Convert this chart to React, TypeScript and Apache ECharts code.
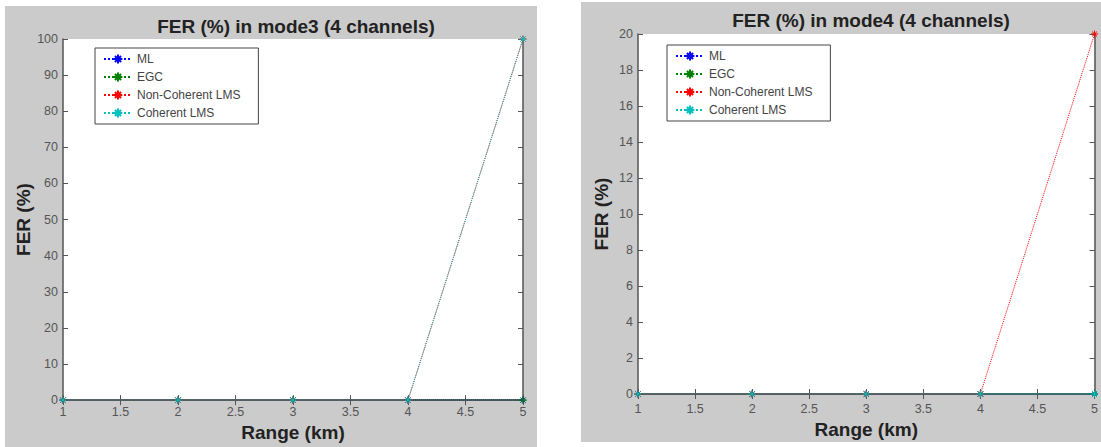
import React, { useEffect, useRef } from "react";
import * as echarts from "echarts";

const ranges = [1, 2, 3, 4, 5];
const seriesNames = ["ML", "EGC", "Non-Coherent LMS", "Coherent LMS"];
const seriesColors = ["#0000ff", "#008000", "#ff0000", "#00bfbf"];

// mode3 FER (%)
const mode3ML = [0, 0, 0, 0, 0];
const mode3EGC = [0, 0, 0, 0, 0];
const mode3NonCoh = [0, 0, 0, 0, 100];
const mode3Coh = [0, 0, 0, 0, 100];

// mode4 FER (%)
const mode4ML = [0, 0, 0, 0, 0];
const mode4EGC = [0, 0, 0, 0, 0];
const mode4NonCoh = [0, 0, 0, 0, 20];
const mode4Coh = [0, 0, 0, 0, 0];

const titles = ["FER (%) in mode3 (4 channels)", "FER (%) in mode4 (4 channels)"];
const yMax = [100, 20];
const yStep = [10, 2];

const STAR = "path://M0,-5L0,5M-5,0L5,0M-3.5,-3.5L3.5,3.5M-3.5,3.5L3.5,-3.5";
const FONT = "Liberation Sans, Arial, sans-serif";

export default function App() {
  const ref = useRef<HTMLDivElement>(null);
  useEffect(() => {
    if (!ref.current) return;
    const chart = echarts.init(ref.current, null, { renderer: "svg" });
    const grids = [
      { left: 63, top: 39, width: 460, height: 363 },
      { left: 638, top: 34, width: 457, height: 360 },
    ];
    const data = [
      [mode3ML, mode3EGC, mode3NonCoh, mode3Coh],
      [mode4ML, mode4EGC, mode4NonCoh, mode4Coh],
    ];
    const axisLine = { show: true, lineStyle: { color: "#555", width: 1.5 } };
    const tickIn = { show: true, inside: true, length: 5, lineStyle: { color: "#555" } };
    const labelStyle = { color: "#555", fontSize: 12.5, fontFamily: FONT };
    const nameStyle = { fontSize: 19, fontWeight: "bold", color: "#222", fontFamily: FONT };
    const xAxes: any[] = [];
    const yAxes: any[] = [];
    const series: any[] = [];
    grids.forEach((g, gi) => {
      xAxes.push({
        type: "value", gridIndex: gi, min: 1, max: 5, interval: 0.5, position: "bottom",
        axisLine, axisTick: tickIn, splitLine: { show: false },
        axisLabel: { ...labelStyle, margin: gi === 0 ? 5 : 8 },
        name: "Range (km)", nameLocation: "middle", nameGap: gi === 0 ? 21 : 24,
        nameTextStyle: nameStyle,
      });
      xAxes.push({
        type: "value", gridIndex: gi, min: 1, max: 5, interval: 0.5, position: "top",
        axisLine, axisTick: tickIn, axisLabel: { show: false }, splitLine: { show: false },
      });
      yAxes.push({
        type: "value", gridIndex: gi, min: 0, max: yMax[gi], interval: yStep[gi], position: "left",
        axisLine, axisTick: tickIn, splitLine: { show: false },
        axisLabel: { ...labelStyle, margin: 5 },
        name: "FER (%)", nameLocation: "middle", nameGap: gi === 0 ? 26 : 27,
        nameTextStyle: nameStyle,
      });
      yAxes.push({
        type: "value", gridIndex: gi, min: 0, max: yMax[gi], interval: yStep[gi], position: "right",
        axisLine, axisTick: tickIn, axisLabel: { show: false }, splitLine: { show: false },
      });
      seriesNames.forEach((name, si) => {
        series.push({
          type: "line", name, xAxisIndex: gi * 2, yAxisIndex: gi * 2,
          data: ranges.map((r, i) => [r, data[gi][si][i]]),
          symbol: STAR, symbolSize: 7,
          lineStyle: { color: seriesColors[si], width: 1, type: "dotted" },
          itemStyle: { color: seriesColors[si], borderColor: seriesColors[si], borderWidth: 1 },
          z: 3 + si,
        });
      });
    });
    chart.setOption({
      animation: false,
      backgroundColor: "#ffffff",
      title: titles.map((t, i) => ({
        text: t,
        left: i === 0 ? 291 : 866,
        top: i === 0 ? 12 : 6,
        textAlign: "center",
        textStyle: { fontSize: 19, fontWeight: "bold", color: "#222", fontFamily: FONT },
      })),
      graphic: [
        { type: "rect", shape: { x: 5, y: 6, width: 532, height: 441 }, style: { fill: "#cbcbcb" }, z: -10 },
        { type: "rect", shape: { x: 581, y: 2, width: 520, height: 440 }, style: { fill: "#cbcbcb" }, z: -10 },
      ],
      grid: grids.map((g) => ({ ...g, show: true, backgroundColor: "#ffffff", borderWidth: 0 })),
      legend: [
        { left: 95, top: 48 },
        { left: 667, top: 45 },
      ].map((p) => ({
        ...p,
        orient: "vertical",
        data: seriesNames,
        backgroundColor: "#ffffff",
        borderColor: "#444",
        borderWidth: 1,
        padding: [5, 18, 5, 8],
        itemGap: 6,
        itemWidth: 28,
        itemHeight: 11,
        selectedMode: false,
        textStyle: { fontSize: 12, color: "#444", fontFamily: FONT },
      })),
      xAxis: xAxes,
      yAxis: yAxes,
      series,
    });
    return () => chart.dispose();
  }, []);
  return (
    <div
      ref={ref}
      style={{ position: "fixed", left: 0, top: 0, width: 1101, height: 447 }}
    />
  );
}
